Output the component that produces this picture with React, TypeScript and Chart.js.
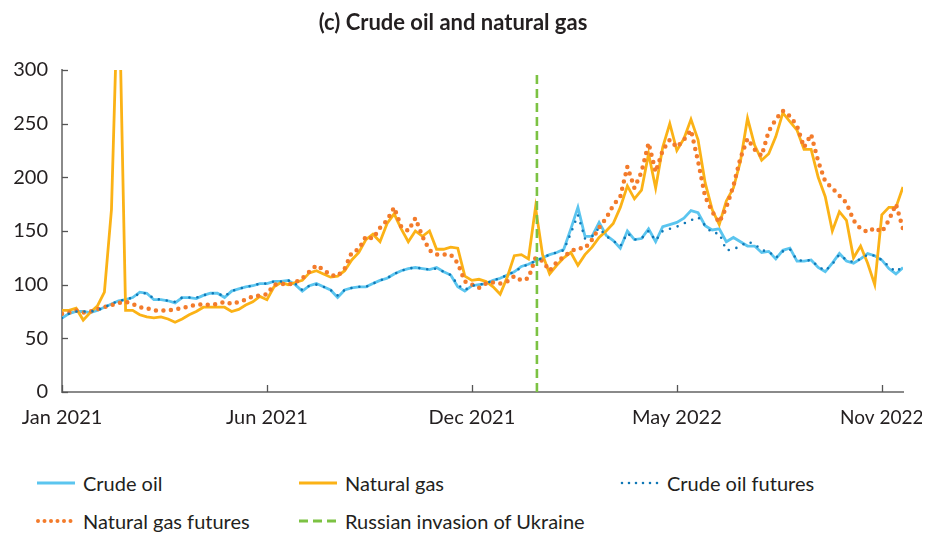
import React, { useEffect, useRef } from 'react';
import { Chart, registerables } from 'chart.js';

Chart.register(...registerables);

// ---- data (one value per period, ~weekly) ----
const xTickPositions = [0, 29, 58, 87, 116];
const xTickLabels = ['Jan 2021', 'Jun 2021', 'Dec 2021', 'May 2022', 'Nov 2022'];
const xMax = 119;
const invasionPeriod = 67.2;
const yTickStep = 50;
const yMin = 0;
const yMax = 300;

const crudeOil = [
  69, 73, 75, 75, 74, 76, 79, 82, 85, 86,
  88, 93, 92, 86, 86, 85, 83, 88, 88, 87,
  90, 92, 92, 88, 94, 96, 98, 99, 101, 101,
  103, 103, 104, 100, 94, 99, 101, 98, 95, 88,
  95, 97, 98, 98, 101, 104, 106, 110, 113, 115,
  116, 115, 114, 116, 112, 109, 98, 94, 99, 100,
  101, 104, 106, 109, 112, 117, 119, 122, 125, 128,
  130, 133, 152, 172, 145, 145, 158, 146, 141, 134,
  150, 142, 143, 152, 140, 154, 156, 158, 162, 169,
  167, 155, 151, 152, 140, 144, 140, 136, 136, 130,
  131, 124, 132, 134, 122, 122, 123, 116, 112, 120,
  129, 122, 120, 124, 129, 127, 123, 115, 110, 116,
];

const naturalGas = [
  76, 76, 78, 67, 74, 80, 93, 170, 400, 76,
  76, 72, 70, 69, 70, 68, 65, 68, 72, 75,
  79, 79, 79, 79, 75, 77, 81, 84, 89, 86,
  98, 102, 100, 102, 104, 111, 113, 110, 107, 108,
  113, 123, 130, 142, 147, 140, 157, 166, 152, 140,
  150, 145, 150, 133, 133, 135, 134, 108, 104, 105,
  103, 98, 91, 107, 127, 128, 124, 172, 128, 110,
  118, 125, 130, 118, 128, 135, 144, 150, 157, 172,
  192, 180, 188, 222, 190, 228, 250, 225, 236, 254,
  235, 195, 170, 156, 178, 190, 215, 255, 230, 216,
  222, 238, 260, 252, 244, 226, 226, 200, 182, 150,
  168, 160, 125, 136, 120, 100, 165, 172, 172, 191,
];

const crudeOilFutures = [
  69, 73, 75, 75, 75, 76, 79, 82, 85, 86,
  88, 92, 92, 87, 86, 85, 84, 88, 88, 88,
  90, 92, 92, 89, 94, 96, 98, 99, 101, 101,
  103, 103, 104, 101, 95, 99, 100, 98, 95, 90,
  95, 97, 98, 98, 101, 104, 106, 110, 113, 115,
  116, 115, 114, 115, 112, 109, 100, 95, 99, 100,
  101, 104, 106, 109, 112, 116, 119, 122, 125, 128,
  130, 132, 148, 165, 143, 145, 153, 145, 141, 136,
  148, 142, 143, 150, 141, 150, 152, 154, 157, 160,
  163, 155, 148, 148, 132, 133, 136, 140, 138, 132,
  131, 125, 131, 133, 123, 122, 123, 117, 113, 119,
  128, 123, 121, 124, 128, 127, 123, 117, 112, 117,
];

const naturalGasFutures = [
  73, 74, 76, 74, 75, 77, 79, 81, 83, 84,
  82, 79, 78, 76, 76, 76, 77, 78, 80, 81,
  82, 81, 82, 84, 82, 84, 86, 89, 90, 91,
  100, 101, 100, 102, 106, 112, 118, 114, 109, 108,
  115, 130, 133, 145, 143, 153, 160, 172, 154, 150,
  162, 145, 132, 128, 128, 128, 120, 103, 100, 97,
  101, 102, 101, 103, 108, 104, 106, 125, 122, 113,
  121, 126, 131, 134, 134, 142, 153, 162, 174, 182,
  210, 190, 205, 232, 205, 225, 235, 228, 235, 244,
  215, 182, 168, 158, 172, 192, 218, 236, 226, 220,
  243, 254, 262, 257, 248, 228, 240, 215, 196, 190,
  183, 176, 160, 152, 149, 153, 149, 160, 175, 152,
];

const seriesNames = ['Crude oil', 'Natural gas', 'Crude oil futures', 'Natural gas futures', 'Russian invasion of Ukraine'];

// ---- styles ----
const C_CRUDE = '#5bc5ef';
const C_GAS = '#fbb216';
const C_CRUDE_F = '#0f77b6';
const C_GAS_F = '#f37b2b';
const C_INV = '#7cc243';
const TEXT = '#231f20';
const AXIS = '#8a8a8a';
const FONT = 'Lato, "Open Sans", sans-serif';

const toPoints = (arr: number[]) => arr.map((v, i) => ({ x: i, y: v }));

const inwardTicks = {
  id: 'inwardTicks',
  afterDraw(chart: any) {
    const { ctx, chartArea, scales } = chart;
    ctx.save();
    ctx.strokeStyle = '#555';
    ctx.lineWidth = 1.3;
    scales.y.ticks.forEach((t: any) => {
      const py = Math.round(scales.y.getPixelForValue(t.value)) + 0.5;
      ctx.beginPath();
      ctx.moveTo(chartArea.left, py);
      ctx.lineTo(chartArea.left + 6, py);
      ctx.stroke();
    });
    scales.x.ticks.forEach((t: any) => {
      const px = Math.round(scales.x.getPixelForValue(t.value)) + 0.5;
      ctx.beginPath();
      ctx.moveTo(px, chartArea.bottom);
      ctx.lineTo(px, chartArea.bottom - 7);
      ctx.stroke();
    });
    ctx.restore();
  },
};

function LegendSample({ kind }: { kind: number }) {
  const w = 40;
  if (kind === 0 || kind === 1) {
    return (
      <svg width={w} height={10} style={{ display: 'block' }}>
        <line x1={1} y1={5} x2={w - 1} y2={5} stroke={kind === 0 ? C_CRUDE : C_GAS} strokeWidth={3} />
      </svg>
    );
  }
  if (kind === 2 || kind === 3) {
    return (
      <svg width={w} height={10} style={{ display: 'block' }}>
        <line x1={2} y1={5} x2={w - 2} y2={5} stroke={kind === 2 ? C_CRUDE_F : C_GAS_F}
          strokeWidth={kind === 2 ? 2.6 : 4} strokeLinecap="round" strokeDasharray={kind === 2 ? '0 7' : '0 6.5'} />
      </svg>
    );
  }
  return (
    <svg width={w} height={10} style={{ display: 'block' }}>
      <line x1={1} y1={5} x2={w} y2={5} stroke={C_INV} strokeWidth={3} strokeDasharray="9 5" />
    </svg>
  );
}

const legendPos = [
  { left: 28, top: 465, kind: 0 },
  { left: 290, top: 465, kind: 1 },
  { left: 612, top: 465, kind: 2 },
  { left: 28, top: 503, kind: 3 },
  { left: 290, top: 503, kind: 4 },
];

export default function App() {
  const ref = useRef<HTMLCanvasElement>(null);

  useEffect(() => {
    if (!ref.current) return;
    const chart = new Chart(ref.current, {
      type: 'line',
      data: {
        datasets: [
          {
            label: seriesNames[4],
            data: [{ x: invasionPeriod, y: yMin }, { x: invasionPeriod, y: yMax }],
            borderColor: C_INV,
            borderWidth: 2.6,
            borderDash: [9, 5],
            pointRadius: 0,
            order: 1,
          },
          {
            label: seriesNames[2],
            data: toPoints(crudeOilFutures),
            borderColor: C_CRUDE_F,
            borderWidth: 2.6,
            borderDash: [0, 8],
            borderCapStyle: 'round',
            pointRadius: 0,
            tension: 0,
            order: 2,
          },
          {
            label: seriesNames[3],
            data: toPoints(naturalGasFutures),
            borderColor: C_GAS_F,
            borderWidth: 4.5,
            borderDash: [0, 7.5],
            borderCapStyle: 'round',
            pointRadius: 0,
            tension: 0,
            order: 3,
          },
          {
            label: seriesNames[1],
            data: toPoints(naturalGas),
            borderColor: C_GAS,
            borderWidth: 2.8,
            pointRadius: 0,
            tension: 0,
            order: 4,
          },
          {
            label: seriesNames[0],
            data: toPoints(crudeOil),
            borderColor: C_CRUDE,
            borderWidth: 2.8,
            pointRadius: 0,
            tension: 0,
            order: 5,
          },
        ],
      },
      options: {
        animation: false,
        responsive: true,
        maintainAspectRatio: false,
        layout: { padding: { top: 62, right: 19, left: 0, bottom: 0 } },
        plugins: {
          legend: { display: false },
          title: { display: false },
          tooltip: { enabled: false },
        },
        scales: {
          x: {
            type: 'linear',
            min: 0,
            max: xMax,
            afterBuildTicks: (s: any) => {
              s.ticks = xTickPositions.map((v) => ({ value: v }));
            },
            afterFit: (s: any) => {
              s.height = 50;
              s.paddingRight = 0;
              s.paddingLeft = 0;
            },
            ticks: {
              autoSkip: false,
              maxRotation: 0,
              padding: 14,
              color: TEXT,
              font: (c: any) => ({ family: FONT, size: c.index === xTickPositions.length - 1 ? 19 : 20 }),
              callback: (v: any) => {
                const k = xTickPositions.indexOf(Number(v));
                return k >= 0 ? xTickLabels[k] : '';
              },
            },
            grid: { display: true, drawOnChartArea: false, drawTicks: false },
            border: { display: true, color: AXIS, width: 2 },
          },
          y: {
            min: yMin,
            max: yMax,
            afterFit: (s: any) => {
              s.width = 54;
              s.paddingTop = 0;
              s.paddingBottom = 0;
            },
            ticks: {
              stepSize: yTickStep,
              padding: 14,
              color: TEXT,
              font: { family: FONT, size: 20 },
            },
            grid: { display: true, drawOnChartArea: false, drawTicks: false },
            border: { display: true, color: AXIS, width: 2 },
          },
        },
      },
      plugins: [inwardTicks],
    });
    return () => chart.destroy();
  }, []);

  return (
    <div style={{ position: 'relative', width: 914, height: 525, fontFamily: FONT, color: TEXT }}>
      <div style={{ position: 'relative', width: 914, height: 434 }}>
        <canvas ref={ref} />
      </div>
      <div
        style={{
          position: 'absolute', left: 0, top: 1, width: 890, textAlign: 'center',
          fontWeight: 700, fontSize: 22, lineHeight: '26px',
        }}
      >
        (c) Crude oil and natural gas
      </div>
      {legendPos.map((p) => (
        <div key={p.kind} style={{ position: 'absolute', left: p.left, top: p.top, display: 'flex', alignItems: 'center', height: 20 }}>
          <LegendSample kind={p.kind} />
          <span style={{ marginLeft: 7, fontSize: 20, lineHeight: '20px', whiteSpace: 'nowrap' }}>{seriesNames[p.kind]}</span>
        </div>
      ))}
    </div>
  );
}
